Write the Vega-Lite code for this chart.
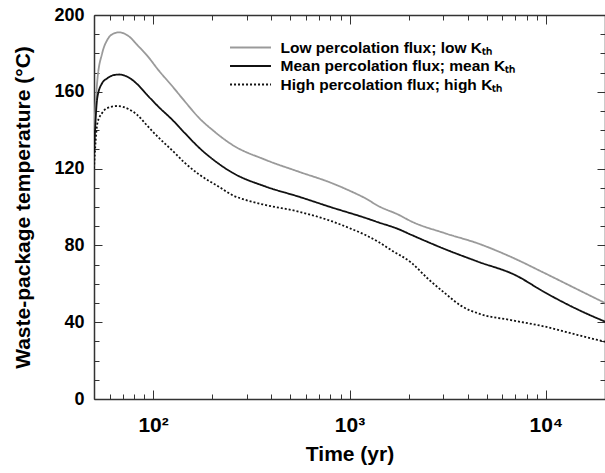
{
  "$schema": "https://vega.github.io/schema/vega-lite/v6.json",
  "autosize": {"type": "none"},
  "padding": {"left": 94, "top": 15, "right": 0, "bottom": 74},
  "width": 511,
  "height": 384,
  "background": "white",
  "config": {
    "view": {"stroke": null},
    "font": "Liberation Sans",
    "axis": {
      "domainColor": "#333333",
      "domainWidth": 1.5,
      "tickColor": "#333333",
      "tickWidth": 1,
      "grid": false,
      "labelFont": "Liberation Sans",
      "labelFontWeight": "bold",
      "labelColor": "black",
      "titleFont": "Liberation Sans",
      "titleFontWeight": "bold",
      "titleColor": "black"
    }
  },
  "data": {
    "values": [
      {"t": 50, "v": 140, "s": "Low"},
      {"t": 52, "v": 166, "s": "Low"},
      {"t": 55, "v": 180, "s": "Low"},
      {"t": 58.4, "v": 187, "s": "Low"},
      {"t": 62, "v": 190, "s": "Low"},
      {"t": 67, "v": 191, "s": "Low"},
      {"t": 75, "v": 189, "s": "Low"},
      {"t": 83, "v": 184.4, "s": "Low"},
      {"t": 93, "v": 179, "s": "Low"},
      {"t": 107, "v": 171, "s": "Low"},
      {"t": 125, "v": 163, "s": "Low"},
      {"t": 145, "v": 155, "s": "Low"},
      {"t": 171, "v": 146.5, "s": "Low"},
      {"t": 204, "v": 139.5, "s": "Low"},
      {"t": 252, "v": 132.5, "s": "Low"},
      {"t": 375, "v": 124.5, "s": "Low"},
      {"t": 551, "v": 118.4, "s": "Low"},
      {"t": 810, "v": 112.5, "s": "Low"},
      {"t": 1000, "v": 108.5, "s": "Low"},
      {"t": 1206, "v": 104.5, "s": "Low"},
      {"t": 1404, "v": 100.5, "s": "Low"},
      {"t": 1774, "v": 96, "s": "Low"},
      {"t": 2064, "v": 92.5, "s": "Low"},
      {"t": 3071, "v": 86.3, "s": "Low"},
      {"t": 4516, "v": 81, "s": "Low"},
      {"t": 6644, "v": 74, "s": "Low"},
      {"t": 9886, "v": 65.5, "s": "Low"},
      {"t": 14537, "v": 57, "s": "Low"},
      {"t": 20000, "v": 50, "s": "Low"},

      {"t": 50, "v": 128, "s": "Mean"},
      {"t": 52, "v": 157, "s": "Mean"},
      {"t": 55, "v": 164.5, "s": "Mean"},
      {"t": 58.4, "v": 167, "s": "Mean"},
      {"t": 62, "v": 168.5, "s": "Mean"},
      {"t": 67, "v": 169, "s": "Mean"},
      {"t": 75, "v": 167.5, "s": "Mean"},
      {"t": 83, "v": 164, "s": "Mean"},
      {"t": 93, "v": 158.5, "s": "Mean"},
      {"t": 107, "v": 152, "s": "Mean"},
      {"t": 125, "v": 145.5, "s": "Mean"},
      {"t": 145, "v": 138.5, "s": "Mean"},
      {"t": 171, "v": 131, "s": "Mean"},
      {"t": 216, "v": 122.5, "s": "Mean"},
      {"t": 252, "v": 118, "s": "Mean"},
      {"t": 375, "v": 110.6, "s": "Mean"},
      {"t": 551, "v": 105.4, "s": "Mean"},
      {"t": 810, "v": 99.8, "s": "Mean"},
      {"t": 1206, "v": 94.3, "s": "Mean"},
      {"t": 1404, "v": 92, "s": "Mean"},
      {"t": 1774, "v": 88.5, "s": "Mean"},
      {"t": 2064, "v": 85.5, "s": "Mean"},
      {"t": 3071, "v": 78, "s": "Mean"},
      {"t": 4516, "v": 71.5, "s": "Mean"},
      {"t": 6963, "v": 64.6, "s": "Mean"},
      {"t": 9886, "v": 55.5, "s": "Mean"},
      {"t": 14537, "v": 46.6, "s": "Mean"},
      {"t": 20000, "v": 40.3, "s": "Mean"},

      {"t": 50, "v": 120, "s": "High"},
      {"t": 52, "v": 143.5, "s": "High"},
      {"t": 55, "v": 149, "s": "High"},
      {"t": 58.4, "v": 151.5, "s": "High"},
      {"t": 65.7, "v": 152.6, "s": "High"},
      {"t": 75, "v": 151, "s": "High"},
      {"t": 83, "v": 148, "s": "High"},
      {"t": 93, "v": 142.5, "s": "High"},
      {"t": 107, "v": 136, "s": "High"},
      {"t": 125, "v": 129.5, "s": "High"},
      {"t": 145, "v": 123, "s": "High"},
      {"t": 171, "v": 117, "s": "High"},
      {"t": 216, "v": 110.6, "s": "High"},
      {"t": 252, "v": 106.3, "s": "High"},
      {"t": 300, "v": 103.5, "s": "High"},
      {"t": 375, "v": 101, "s": "High"},
      {"t": 551, "v": 97.6, "s": "High"},
      {"t": 810, "v": 92.6, "s": "High"},
      {"t": 1000, "v": 89, "s": "High"},
      {"t": 1206, "v": 85.4, "s": "High"},
      {"t": 1404, "v": 81.8, "s": "High"},
      {"t": 1634, "v": 77.5, "s": "High"},
      {"t": 2064, "v": 71, "s": "High"},
      {"t": 2518, "v": 62.5, "s": "High"},
      {"t": 3071, "v": 55, "s": "High"},
      {"t": 3703, "v": 48.5, "s": "High"},
      {"t": 4516, "v": 44.6, "s": "High"},
      {"t": 6644, "v": 41.1, "s": "High"},
      {"t": 9886, "v": 37.7, "s": "High"},
      {"t": 14537, "v": 33.3, "s": "High"},
      {"t": 20000, "v": 29.8, "s": "High"}
    ]
  },
  "layer": [
    {
      "mark": {"type": "line", "strokeWidth": 1.8, "interpolate": "monotone", "clip": true},
      "encoding": {
        "x": {
          "field": "t", "type": "quantitative",
          "scale": {"type": "log", "domain": [50, 20000], "nice": false},
          "axis": {
            "orient": "bottom",
            "title": "Time (yr)",
            "titleFontSize": 21,
            "titlePadding": 4,
            "values": [50,60,70,80,90,100,200,300,400,500,600,700,800,900,1000,2000,3000,4000,5000,6000,7000,8000,9000,10000,20000],
            "labelExpr": "datum.value == 100 ? '10²' : datum.value == 1000 ? '10³' : datum.value == 10000 ? '10⁴' : ''",
            "labelFontSize": 21,
            "labelPadding": 24,
            "labelOverlap": false,
            "tickSize": {"condition": {"test": "datum.value == 100 || datum.value == 1000 || datum.value == 10000", "value": -9}, "value": -5}
          }
        },
        "y": {
          "field": "v", "type": "quantitative",
          "scale": {"domain": [0, 200], "nice": false, "zero": true},
          "axis": {
            "orient": "left",
            "title": "Waste-package temperature (°C)",
            "titleFontSize": 21,
            "titlePadding": 20,
            "values": [0,10,20,30,40,50,60,70,80,90,100,110,120,130,140,150,160,170,180,190,200],
            "labelExpr": "datum.value % 40 == 0 ? datum.label : ''",
            "labelFontSize": 18,
            "labelPadding": 18,
            "labelOverlap": false,
            "tickSize": {"condition": {"test": "datum.value % 40 == 0", "value": -8}, "value": -5}
          }
        },
        "color": {
          "field": "s", "type": "nominal",
          "scale": {"domain": ["Low", "Mean", "High"], "range": ["#9a9a9a", "#111111", "#111111"]},
          "legend": {
            "orient": "none",
            "legendX": 147.5,
            "legendY": 23.5,
            "title": null,
            "symbolType": "M-2.56,0H2.56",
            "symbolSize": 256,
            "symbolStrokeWidth": 2,
            "labelFontSize": 15.5,
            "labelFontWeight": "bold",
            "labelFont": "Liberation Sans",
            "labelColor": "black",
            "labelLimit": 0,
            "labelOffset": 21,
            "rowPadding": 0.5,
            "labelExpr": "datum.value == 'Low' ? 'Low percolation flux; low Kₜₕ' : datum.value == 'Mean' ? 'Mean percolation flux; mean Kₜₕ' : 'High percolation flux; high Kₜₕ'"
          }
        },
        "strokeDash": {
          "field": "s", "type": "nominal",
          "scale": {"domain": ["Low", "Mean", "High"], "range": [[1, 0], [1, 0], [2, 2]]},
          "legend": null
        }
      }
    },
    {
      "mark": {"type": "line", "opacity": 0},
      "encoding": {
        "x": {
          "field": "t", "type": "quantitative",
          "scale": {"type": "log", "domain": [50, 20000], "nice": false},
          "axis": {
            "orient": "top",
            "title": null,
            "values": [50,60,70,80,90,100,200,300,400,500,600,700,800,900,1000,2000,3000,4000,5000,6000,7000,8000,9000,10000,20000],
            "labels": false,
            "tickSize": {"condition": {"test": "datum.value == 100 || datum.value == 1000 || datum.value == 10000", "value": -9}, "value": -5}
          }
        },
        "y": {
          "field": "v", "type": "quantitative",
          "scale": {"domain": [0, 200], "nice": false, "zero": true},
          "axis": {
            "orient": "right",
            "title": null,
            "values": [0,10,20,30,40,50,60,70,80,90,100,110,120,130,140,150,160,170,180,190,200],
            "labels": false,
            "tickSize": {"condition": {"test": "datum.value % 40 == 0", "value": -8}, "value": -5}
          }
        },
        "detail": {"field": "s", "type": "nominal"}
      }
    }
  ],
  "resolve": {"axis": {"x": "independent", "y": "independent"}}
}
